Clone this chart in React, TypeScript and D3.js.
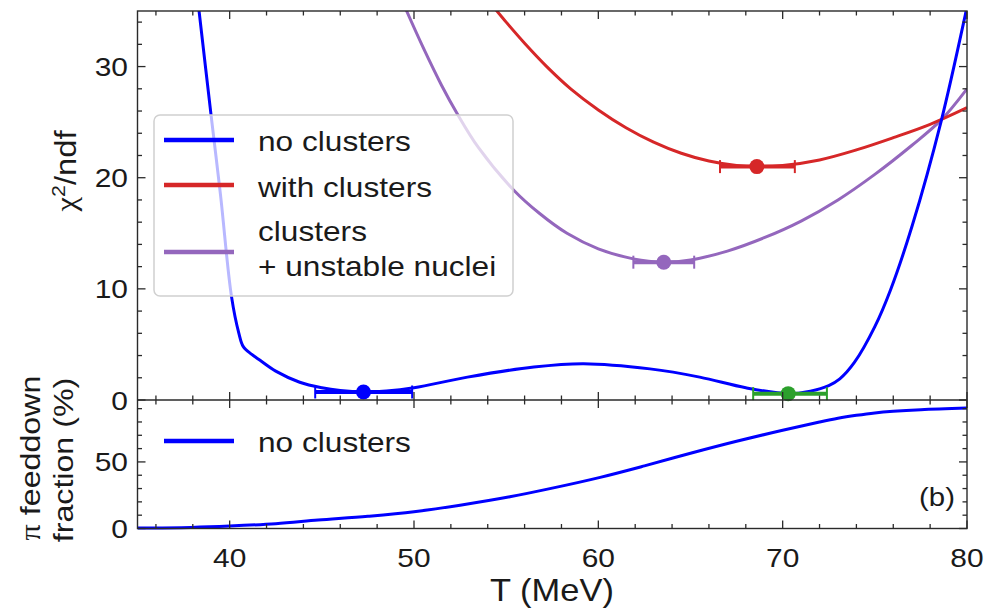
import React from "react";
import * as d3 from "d3";

// ---------- data ----------
const blueT = [38.0, 38.34, 39.0, 39.5, 40.1, 40.5, 40.74, 41.2, 41.65, 42.5, 43.8, 45.0, 46.0, 47.26, 48.5, 50.0, 52.9, 56.5, 59.2, 62.8, 65.5, 68.0, 70.3, 71.5, 72.5, 73.1, 73.9, 75.0, 75.85, 77.03, 78.6, 79.9, 80.0];
const blueChi = [40, 35, 25.5, 18.5, 9.3, 6.0, 4.8, 4.1, 3.57, 2.6, 1.6, 1.1, 0.85, 0.72, 0.8, 1.1, 2.06, 2.97, 3.27, 2.8, 2.06, 1.1, 0.57, 0.8, 1.3, 1.9, 3.4, 6.6, 9.9, 15.7, 25.1, 34.6, 35.4];

const redT = [54.2, 55.0, 56.0, 57.2, 58.5, 60.0, 61.5, 63.0, 64.5, 66.0, 67.5, 68.6, 70.0, 72.0, 74.0, 76.0, 78.0, 80.0];
const redChi = [35.6, 34.0, 32.1, 30.0, 28.0, 26.1, 24.5, 23.2, 22.2, 21.5, 21.1, 21.0, 21.1, 21.6, 22.5, 23.6, 24.8, 26.3];

const purpleT = [49.0, 49.6, 50.5, 51.5, 52.33, 53.5, 55.4, 56.8, 58.3, 60.0, 61.9, 63.5, 65.0, 67.0, 69.0, 71.0, 73.0, 75.0, 77.0, 78.6, 80.0];
const purpleChi = [37.3, 35, 31.7, 28.3, 25.8, 22.7, 18.9, 16.8, 15.0, 13.6, 12.7, 12.4, 12.6, 13.4, 14.6, 16.1, 18.0, 20.3, 22.9, 25.2, 28.0];

const fracT = [35, 37.9, 40, 42.5, 44.8, 47.5, 50, 52.5, 55.2, 57.5, 60.1, 62.5, 65, 67.5, 70, 72, 73, 74, 75, 76, 77.5, 80];
const fracV = [0.3, 0.8, 1.8, 3.6, 6.3, 9.2, 12.6, 17.5, 23.8, 30.3, 38.4, 47, 56.5, 65.5, 73.8, 80.0, 82.8, 85.0, 86.8, 88.0, 89.2, 90.4];

// minima with error bars: [center T, low T, high T, chi2]
const minBlue = [47.26, 44.64, 49.9, 0.72];
const minGreen = [70.3, 68.4, 72.4, 0.57];
const minRed = [68.6, 66.6, 70.66, 21.0];
const minPurple = [63.55, 61.9, 65.2, 12.4];

const xTicks = [40, 50, 60, 70, 80];
const yTopTicks = [0, 10, 20, 30];
const yBotTicks = [0, 50];

const legendTop = ["no clusters", "with clusters", "clusters", "+ unstable nuclei"];
const legendBottom = ["no clusters"];

// ---------- layout ----------
const W = 987, H = 610;
const L = 137.5, R = 967, T0 = 11, MID = 400, B = 528.5;
const BLUE = "#0000ff", RED = "#d62728", PURPLE = "#9467bd", GREEN = "#2ca02c";
const FRAME = "#2a2a2a";
const FONT = "'Liberation Sans', Arial, Helvetica, sans-serif";
const SX = 1.13;

const x = d3.scaleLinear().domain([35, 80]).range([L, R]);
const yT = d3.scaleLinear().domain([0, 35]).range([MID, T0]);
const yB = d3.scaleLinear().domain([0, 96.5]).range([B, MID]);

function Txt({ x, y, size, anchor = "start", rotate = 0, children, family = FONT, fill = "#1a1a1a" }: any) {
  const tr = rotate ? `translate(${x},${y}) rotate(${rotate}) scale(${SX},1)` : `translate(${x},${y}) scale(${SX},1)`;
  return (
    <text transform={tr} fontSize={size} textAnchor={anchor} fontFamily={family} fill={fill}>
      {children}
    </text>
  );
}

function ErrBar({ m, color }: { m: number[]; color: string }) {
  const [c, lo, hi, v] = m;
  const yy = yT(v);
  return (
    <g>
      <line x1={x(lo)} x2={x(hi)} y1={yy} y2={yy} stroke={color} strokeWidth={4} />
      <line x1={x(lo)} x2={x(lo)} y1={yy - 6.5} y2={yy + 6.5} stroke={color} strokeWidth={2} />
      <line x1={x(hi)} x2={x(hi)} y1={yy - 6.5} y2={yy + 6.5} stroke={color} strokeWidth={2} />
      <circle cx={x(c)} cy={yy} r={7.5} fill={color} />
    </g>
  );
}

export default function App() {
  const curve = d3.curveCatmullRom.alpha(0.5);
  const lineTop = (ts: number[], vs: number[]) =>
    d3.line<number>().x((d) => x(d)).y((_, i) => yT(vs[i])).curve(curve)(ts) || "";
  const lineBot = d3.line<number>().x((d) => x(d)).y((_, i) => yB(fracV[i])).curve(curve)(fracT) || "";

  const xMinor = d3.range(36, 80.001, 2).filter((v) => !xTicks.includes(v));
  const yTopMinor = d3.range(2, 35, 2).filter((v) => v % 10 !== 0);
  const yBotMinor = d3.range(10, 96, 10).filter((v) => v % 50 !== 0);
  const MAJ = 8, MIN = 4.5;

  const tickLines: any[] = [];
  xTicks.forEach((t) => {
    const xx = x(t);
    tickLines.push([xx, T0, xx, T0 + MAJ], [xx, MID - MAJ, xx, MID + MAJ], [xx, B, xx, B - MAJ]);
  });
  xMinor.forEach((t) => {
    const xx = x(t);
    tickLines.push([xx, T0, xx, T0 + MIN], [xx, MID - MIN, xx, MID + MIN], [xx, B, xx, B - MIN]);
  });
  yTopTicks.forEach((t) => {
    const yy = yT(t);
    tickLines.push([L, yy, L + MAJ, yy], [R, yy, R - MAJ, yy]);
  });
  yTopMinor.forEach((t) => {
    const yy = yT(t);
    tickLines.push([L, yy, L + MIN, yy], [R, yy, R - MIN, yy]);
  });
  yBotTicks.forEach((t) => {
    const yy = yB(t);
    tickLines.push([L, yy, L + MAJ, yy], [R, yy, R - MAJ, yy]);
  });
  yBotMinor.forEach((t) => {
    const yy = yB(t);
    tickLines.push([L, yy, L + MIN, yy], [R, yy, R - MIN, yy]);
  });

  const legY = [140, 185, 252];
  const legColors = [BLUE, RED, PURPLE];

  return (
    <svg width={W} height={H} style={{ position: "absolute", left: 0, top: 0, background: "#fff" }}>
      <defs>
        <clipPath id="clipTop">
          <rect x={L} y={T0} width={R - L} height={MID - T0} />
        </clipPath>
        <clipPath id="clipBot">
          <rect x={L} y={MID} width={R - L} height={B - MID + 2} />
        </clipPath>
      </defs>
      <rect x={0} y={0} width={W} height={H} fill="#fff" />

      {/* curves top */}
      <g clipPath="url(#clipTop)" fill="none" strokeWidth={3}>
        <path d={lineTop(purpleT, purpleChi)} stroke={PURPLE} />
        <path d={lineTop(redT, redChi)} stroke={RED} />
        <path d={lineTop(blueT, blueChi)} stroke={BLUE} />
      </g>

      {/* legend top */}
      <rect x={154} y={115} width={359} height={181} rx={6} fill="#fff" fillOpacity={0.72} stroke="#d0d0d0" strokeWidth={1.5} />
      {legColors.map((c, i) => (
        <line key={i} x1={164} x2={234} y1={legY[i]} y2={legY[i]} stroke={c} strokeWidth={4.5} />
      ))}
      <Txt x={258} y={151} size={28}>{legendTop[0]}</Txt>
      <Txt x={258} y={197} size={28}>{legendTop[1]}</Txt>
      <Txt x={258} y={241} size={28}>{legendTop[2]}</Txt>
      <Txt x={258} y={276} size={28}>{legendTop[3]}</Txt>

      {/* minima */}
      <ErrBar m={minPurple} color={PURPLE} />
      <ErrBar m={minRed} color={RED} />
      <ErrBar m={minBlue} color={BLUE} />
      <ErrBar m={minGreen} color={GREEN} />

      {/* bottom curve */}
      <g clipPath="url(#clipBot)">
        <path d={lineBot} fill="none" stroke={BLUE} strokeWidth={3} />
      </g>
      <line x1={164} x2={234} y1={441} y2={441} stroke={BLUE} strokeWidth={4.5} />
      <Txt x={258} y={452} size={28}>{legendBottom[0]}</Txt>
      <Txt x={955} y={506} size={26} anchor="end">(b)</Txt>

      {/* frames */}
      <rect x={L} y={T0} width={R - L} height={B - T0} fill="none" stroke={FRAME} strokeWidth={1.4} />
      <line x1={L} x2={R} y1={MID} y2={MID} stroke={FRAME} strokeWidth={1.4} />
      {tickLines.map((t, i) => (
        <line key={i} x1={t[0]} y1={t[1]} x2={t[2]} y2={t[3]} stroke={FRAME} strokeWidth={1.3} />
      ))}

      {/* tick labels */}
      {yTopTicks.map((t) => (
        <Txt key={"yt" + t} x={128} y={yT(t) + 9.5} size={26.5} anchor="end">{String(t)}</Txt>
      ))}
      {yBotTicks.map((t) => (
        <Txt key={"yb" + t} x={128} y={yB(t) + 9.5} size={26.5} anchor="end">{String(t)}</Txt>
      ))}
      {xTicks.map((t) => (
        <Txt key={"x" + t} x={x(t)} y={567} size={26.5} anchor="middle">{String(t)}</Txt>
      ))}

      {/* axis labels */}
      <Txt x={552} y={601} size={30.5} anchor="middle">T (MeV)</Txt>
      <Txt x={76} y={171} size={29} anchor="middle" rotate={-90}>
        <tspan fontFamily="'Liberation Serif', serif">χ</tspan>
        <tspan dy={-11} fontSize={19}>2</tspan>
        <tspan dy={11}>/ndf</tspan>
      </Txt>
      <Txt x={40} y={458} size={28.5} anchor="middle" rotate={-90}>
        <tspan fontFamily="'Liberation Serif', serif">π</tspan>
        <tspan> feeddown</tspan>
      </Txt>
      <Txt x={73} y={460} size={28.5} anchor="middle" rotate={-90}>fraction (%)</Txt>
    </svg>
  );
}
